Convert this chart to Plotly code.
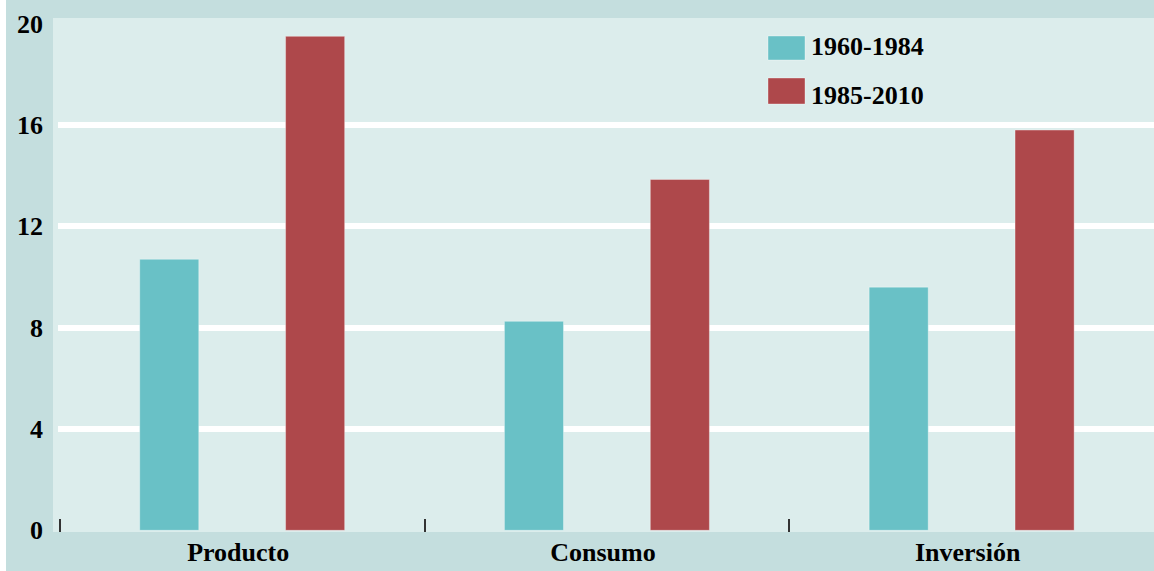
import plotly.graph_objects as go

# Data
categories = ["Producto", "Consumo", "Inversión"]
series_names = ["1960-1984", "1985-2010"]
values_1960_1984 = [10.7, 8.25, 9.6]
values_1985_2010 = [19.5, 13.85, 15.8]
y_tick_values = [0, 4, 8, 12, 16, 20]
grid_values = [4, 8, 12, 16]

# Styling
colors = ["#69c1c6", "#ae484b"]
outer_bg = "#c4dede"
plot_bg = "#dcedec"
font_family = "Liberation Serif, Times New Roman, serif"
W, H = 1154, 571
L, R, T, B = 58, 0, 18, 39
plot_w = W - L - R
plot_h = H - T - B


def px_x(px):
    return (px - L) / plot_w


def px_y(py):
    return (H - B - py) / plot_h


bar_width = 0.162
offsets = [-0.281, 0.119]
series_values = [values_1960_1984, values_1985_2010]

fig = go.Figure()
for name, vals, col, off in zip(series_names, series_values, colors, offsets):
    fig.add_trace(go.Bar(
        x=categories, y=vals, name=name,
        marker=dict(color=col, line=dict(color="rgba(255,255,255,0.35)", width=1)),
        width=bar_width, offset=off, showlegend=False,
    ))

shapes = [
    # plot background extends slightly left of the axis start
    dict(type="rect", xref="paper", yref="paper", x0=px_x(53), x1=px_x(59),
         y0=px_y(532), y1=px_y(18), fillcolor=plot_bg, line=dict(width=0), layer="below"),
    # thin white strip on the far left edge
    dict(type="rect", xref="paper", yref="paper", x0=px_x(0), x1=px_x(6),
         y0=px_y(571), y1=px_y(0), fillcolor="white", line=dict(width=0), layer="below"),
]

annotations = []
legend_boxes = [(36, 60, 46), (78, 104, 95)]
for name, col, (top, bot, text_y) in zip(series_names, colors, legend_boxes):
    shapes.append(dict(type="rect", xref="paper", yref="paper",
                       x0=px_x(768), x1=px_x(805), y0=px_y(bot), y1=px_y(top),
                       fillcolor=col, line=dict(color="rgba(255,255,255,0.35)", width=1)))
    annotations.append(dict(xref="paper", yref="paper", x=px_x(809), y=px_y(text_y),
                            text=name, showarrow=False, xanchor="left", yanchor="middle",
                            font=dict(family=font_family, size=26, color="black", weight="bold")))

fig.update_layout(
    width=W, height=H,
    margin=dict(l=L, r=R, t=T, b=B, pad=0),
    paper_bgcolor=outer_bg,
    plot_bgcolor=plot_bg,
    barmode="group",
    shapes=shapes,
    annotations=annotations,
    font=dict(family=font_family, size=26, color="black", weight="bold"),
    xaxis=dict(
        type="category", range=[-0.505, 2.5],
        showgrid=False, zeroline=False, showline=False,
        ticks="inside", tickson="boundaries", ticklen=13, tickwidth=2, tickcolor="#333333",
        tickfont=dict(family=font_family, size=26, color="black", weight="bold"),
        ticklabelstandoff=2, ticklabelshift=-4,
    ),
    yaxis=dict(
        range=[-0.067, 20.225],
        tickmode="array", tickvals=y_tick_values,
        showgrid=False, zeroline=False, showline=False, ticks="",
        tickfont=dict(family=font_family, size=26, color="black", weight="bold"),
        ticklabelstandoff=14,
        minor=dict(tickmode="array", tickvals=grid_values, showgrid=True,
                   gridcolor="white", gridwidth=6, ticks=""),
    ),
)

fig.write_html("out.html")
